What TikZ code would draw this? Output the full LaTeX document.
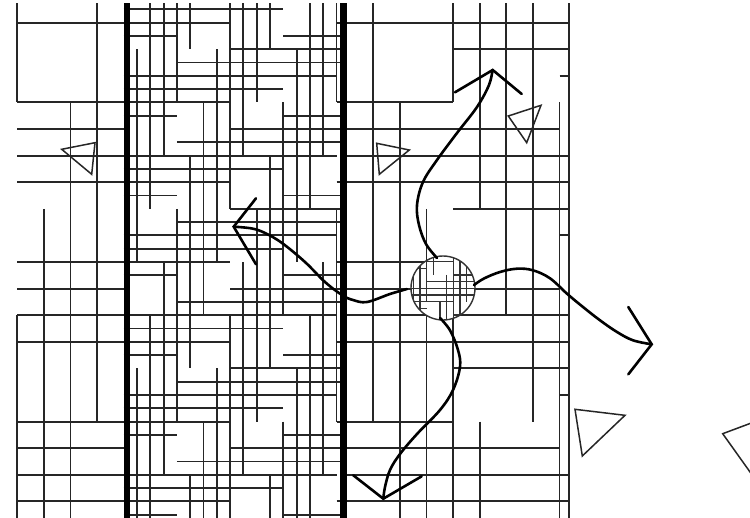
\documentclass[tikz,border=0pt]{standalone}
\newcommand{\gridpat}{%
  % middle band verticals
  \foreach \k in {6,12}{\draw[gl] (\k,7)--(\k,23) (\k,31)--(\k,\E);}
  \foreach \k in {1,7,13}{\draw[gl] (\k,3)--(\k,19) (\k,27)--(\k,\E);}
  \foreach \k in {2,8,14}{\draw[gl] (\k,\T)--(\k,15) (\k,23)--(\k,\E);}
  \foreach \k in {3,9,15}{\draw[gl] (\k,\T)--(\k,11) (\k,19)--(\k,35);}
  \foreach \k in {4,10,16}{\draw[gl] (\k,\T)--(\k,7) (\k,15)--(\k,31);}
  \foreach \k in {5,11}{\draw[gl] (\k,\T)--(\k,3) (\k,11)--(\k,27) (\k,35)--(\k,\E);}
  % middle band horizontals
  \foreach \j in {0,6,12,18,24,30,36}{\draw[gl] (0,\j)--(12,\j);}
  \foreach \j in {1,7,13,19,25,31,37}{\draw[gl] (-8,\j)--(8,\j);}
  \foreach \j in {2,8,14,20,26,32,38}{\draw[gl] (0,\j)--(4,\j) (12,\j)--(16.5,\j);}
  \foreach \j in {3,9,15,21,27,33}{\draw[gl] (8,\j)--(16.5,\j);}
  \foreach \j in {4,10,16,22,28,34}{\draw[gl] (4,\j)--(16.5,\j);}
  \foreach \j in {5,11,17,23,29,35}{\draw[gl] (0,\j)--(16,\j);}
  % left band
  \foreach \j in {9,21,33,11,23,35}{\draw[gl] (-8,\j)--(0.25,\j);}
  \draw[gl] (-8,\T)--(-8,7) (-8,23)--(-8,\E);
  \draw[gl] (-6,15)--(-6,\E);
  \draw[gl] (-4,7)--(-4,\E);
  \draw[gl] (-2,\T)--(-2,31);
  % right band
  \foreach \j in {1,13,25,37}{\draw[gl] (16,\j)--(33.5,\j);}
  \foreach \j in {3,15,27}{\draw[gl] (24.77,\j)--(33.5,\j);}
  \foreach \j in {5,17,29}{\draw[gl] (32.77,\j)--(33.5,\j);}
  \foreach \j in {7,19,31}{\draw[gl] (16,\j)--(24.77,\j);}
  \foreach \j in {9,21,33}{\draw[gl] (16.5,\j)--(32.77,\j);}
  \foreach \j in {11,23,35}{\draw[gl] (16.5,\j)--(33.5,\j);}
  \draw[gl] (18.77,\T)--(18.77,31);
  \draw[gl] (20.77,7)--(20.77,\E);
  \draw[gl] (22.77,15)--(22.77,\E);
  \draw[gl] (24.77,\T)--(24.77,7) (24.77,23)--(24.77,\E);
  \draw[gl] (26.77,\T)--(26.77,15) (26.77,31)--(26.77,\E);
  \draw[gl] (28.77,\T)--(28.77,23);
  \draw[gl] (30.77,\T)--(30.77,31);
  \draw[gl] (32.77,7)--(32.77,\E);
  \draw[gl] (33.5,\T)--(33.5,\E);
}
\begin{document}
\begin{tikzpicture}[x=1pt,y=-1pt,
  gl/.style={line width=1.9pt,black!85},
  thickbar/.style={line width=6.8pt,black},
  tri/.style={line width=1.5pt,black!85,line join=miter},
  curve/.style={line width=2.6pt,black,line cap=round},
  head/.style={line width=2.6pt,black,line cap=round,line join=miter}]
\useasboundingbox (0,0) rectangle (750,517);
\clip (0,0) rectangle (750,517);
\def\T{-0.45}
\def\E{38.3}
\begin{scope}[shift={(123.7,9.3)},x=13.3pt,y=-13.3pt]
  \gridpat
  \draw[thickbar] (0.25,\T)--(0.25,\E);
  \draw[thickbar] (16.5,\T)--(16.5,\E);
\end{scope}
% magnified circle
\fill[white] (443,288) circle (32);
\begin{scope}
  \clip (443,288) circle (32);
  \begin{scope}[shift={(400,255)},x=6.65pt,y=-6.65pt]
    \tikzset{gl/.style={line width=1.3pt,black!80}}
    \gridpat
    \draw[line width=3.4pt] (0.25,\T)--(0.25,\E);
  \end{scope}
\end{scope}
\draw[line width=1.4pt,black!80] (443,288) circle (32);
% triangles
\draw[tri] (61.7,149.3)--(95,142.7)--(91.7,174.3)--cycle;
\draw[tri] (376.7,143.3)--(409.3,150)--(379.3,174.3)--cycle;
\draw[tri] (508.3,116)--(541,105.3)--(526.7,142.7)--cycle;
\draw[tri] (575,409.3)--(625,415.3)--(582.3,456)--cycle;
\draw[tri] (722.7,433.7)--(770,416)--(770,500)--cycle;
% arrows
\draw[curve] plot[smooth,tension=0.6] coordinates {(437,258) (426,244) (419,225) (417,205) (423,182) (437,160) (457,133) (477,107) (489,85) (492.5,70)};
\draw[head] (455,92.3)--(492.7,70)--(521.7,94);
\draw[curve] plot[smooth,tension=0.6] coordinates {(407,289) (390,294) (367,302) (353,300) (342,295) (325,282) (305,262) (282,243) (265,233) (252,228.5) (234,226.7)};
\draw[head] (256,198.3)--(233.7,226.7)--(256,264.3);
\draw[curve] plot[smooth,tension=0.6] coordinates {(474,285) (484,278.5) (500,272) (517,268.7) (533,270.3) (550,278.3) (567,293.7) (583,307) (600,320.3) (617,332) (633,340.3) (651.7,344.3)};
\draw[head] (628.3,307)--(651.7,344.3)--(628.3,374.3);
\draw[curve] plot[smooth,tension=0.6] coordinates {(440,318) (450,330.3) (458,350) (460,367) (453,390) (440,410) (417,434) (400,454) (390,470) (385,487) (383.3,498.7)};
\draw[head] (353.3,475.3)--(383.3,498.7)--(421.7,476.3);
\end{tikzpicture}
\end{document}
